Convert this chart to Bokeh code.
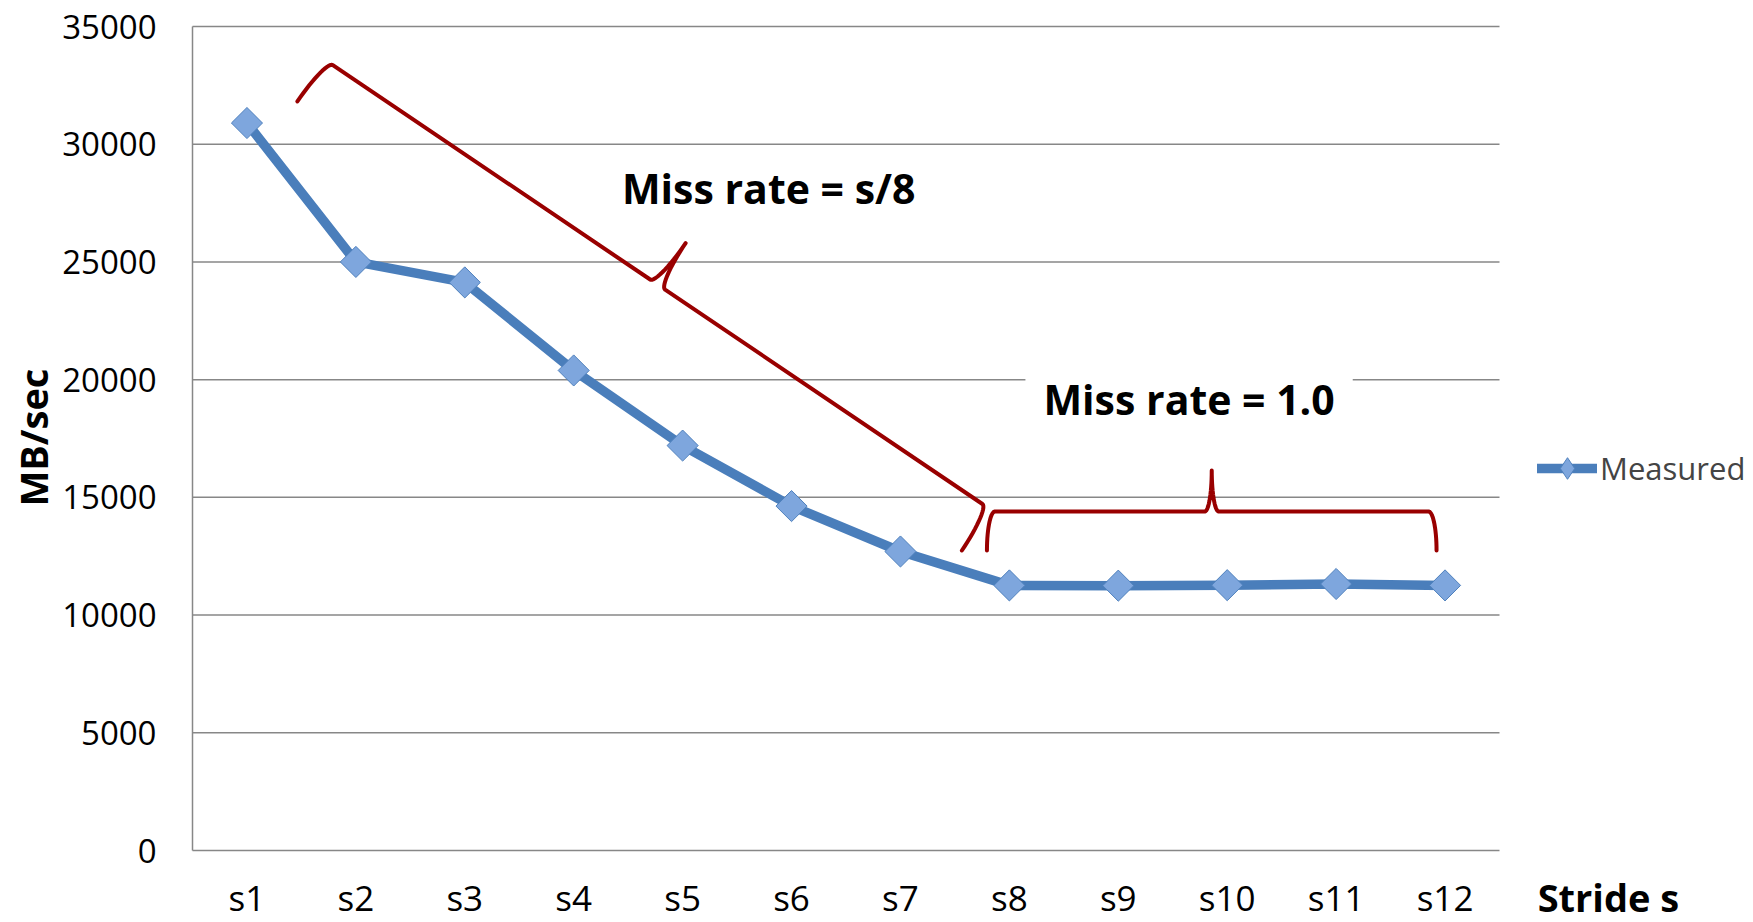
import numpy as np
from bokeh.plotting import figure
from bokeh.models import Range1d, FixedTicker, Label, Legend, LegendItem, LinearAxis
from bokeh.embed import file_html
from bokeh.resources import INLINE

# ---------------- data ----------------
categories = ["s1", "s2", "s3", "s4", "s5", "s6", "s7", "s8", "s9", "s10", "s11", "s12"]
measured = [30900, 25000, 24130, 20390, 17200, 14630, 12700, 11260, 11250, 11270, 11320, 11260]
y_ticks = [0, 5000, 10000, 15000, 20000, 25000, 30000, 35000]
series_name = "Measured"
y_title = "MB/sec"
x_title = "Stride s"
note_1 = "Miss rate = s/8"
note_2 = "Miss rate = 1.0"

# annotation anchors (category position, MB/sec)
note_1_pos = (5.29, 28120)
note_2_pos = (9.15, 19160)
y_title_pos = (-1.46, 17540)
x_title_x = 13.0
brace_1 = ((0.963, 31815), (7.064, 12743))
brace_2 = ((7.294, 12743), (11.422, 12743))

# ---------------- layout ----------------
W, H = 1753, 922
PLOT_L, PLOT_R, PLOT_T, PLOT_B = 192, 1499, 26, 850   # pixel box of the category area
YMAX = 35000
ncat = len(categories)
CAT_PX = (PLOT_R - PLOT_L) / ncat
VAL_PX = YMAX / (PLOT_B - PLOT_T)
x_range = Range1d(-PLOT_L / CAT_PX, (W - PLOT_L) / CAT_PX)
y_range = Range1d(-(H - PLOT_B) * VAL_PX, YMAX + PLOT_T * VAL_PX)
FONT = "Open Sans"
BLUE = "#4A7EBB"
RED = "#990000"
GRID = "#878787"

p = figure(width=W, height=H, x_range=x_range, y_range=y_range,
           output_backend="svg", toolbar_location=None,
           min_border_left=0, min_border_right=0, min_border_top=0, min_border_bottom=0)
p.outline_line_color = None
p.background_fill_color = "white"
p.border_fill_color = "white"

xs = [i + 0.5 for i in range(ncat)]

# axes (pinned at the data origin)
p.xaxis.ticker = FixedTicker(ticks=xs)
p.xaxis.major_label_overrides = {x: c for x, c in zip(xs, categories)}
p.xaxis.fixed_location = 0
p.yaxis.ticker = FixedTicker(ticks=y_ticks)
p.yaxis.fixed_location = 0
p.yaxis.bounds = (0, YMAX)
for ax in (p.xaxis[0], p.yaxis[0]):
    ax.major_tick_line_color = None
    ax.minor_tick_line_color = None
    ax.major_label_text_font = FONT
    ax.major_label_text_color = "black"
p.xaxis.axis_line_color = None
p.yaxis.axis_line_color = GRID
p.yaxis.axis_line_width = 1.5
p.yaxis.major_label_text_font_size = "33px"
p.xaxis.major_label_text_font_size = "35px"
p.yaxis.major_label_standoff = 30
p.xaxis.major_label_standoff = 17

# x title as the single tick label of a second bottom axis
title_axis = LinearAxis(ticker=FixedTicker(ticks=[x_title_x]),
                        major_label_overrides={x_title_x: x_title},
                        fixed_location=0, axis_line_color=None,
                        major_tick_line_color=None, minor_tick_line_color=None,
                        major_label_standoff=14, major_label_text_font=FONT,
                        major_label_text_font_size="38px",
                        major_label_text_font_style="bold",
                        major_label_text_color="black")
p.add_layout(title_axis, "below")

# gridlines only across the category area
p.xgrid.visible = False
p.ygrid.visible = False
p.segment(x0=[0] * len(y_ticks), y0=y_ticks, x1=[ncat] * len(y_ticks), y1=y_ticks,
          line_color=GRID, line_width=1.5)

# ---------------- braces ----------------
def brace_path(a, b, depth, tip, r_hook, r_tip, n=16):
    sx = CAT_PX
    sy = 1.0 / VAL_PX
    A = np.array([a[0] * sx, a[1] * sy])
    B = np.array([b[0] * sx, b[1] * sy])
    u = B - A
    L = np.linalg.norm(u)
    u = u / L
    nv = np.array([-u[1], u[0]])
    th = np.linspace(0, np.pi / 2, n)
    s1 = r_hook - r_hook * np.cos(th)
    t1 = depth * np.sin(th)
    s2 = L / 2 - r_tip + r_tip * np.sin(th)
    t2 = depth + tip - tip * np.cos(th)
    s_half = np.concatenate([s1, s2])
    t_half = np.concatenate([t1, t2])
    s = np.concatenate([s_half, (L - s_half)[::-1]])
    t = np.concatenate([t_half, t_half[::-1]])
    pts = A[None, :] + s[:, None] * u[None, :] + t[:, None] * nv[None, :]
    return list(pts[:, 0] / sx), list(pts[:, 1] / sy)

bx1, by1 = brace_path(brace_1[0], brace_1[1], depth=50, tip=50, r_hook=9, r_tip=9)
bx2, by2 = brace_path(brace_2[0], brace_2[1], depth=39, tip=41, r_hook=8, r_tip=7)
p.line(bx1, by1, line_color=RED, line_width=4, line_join="round", line_cap="round")
p.line(bx2, by2, line_color=RED, line_width=4, line_join="round", line_cap="round")

# ---------------- series ----------------
lr = p.line(xs, measured, line_color=BLUE, line_width=9.5, line_join="round", line_cap="round")
sr = p.scatter(xs, measured, marker="square", angle=np.pi / 4, size=22,
               fill_color="#7EA6DD", line_color="#4F81BD", line_width=1)
# legend-only diamond (no visible point in the plot)
sr_leg = p.scatter(x=np.array([xs[0]]), y=np.array([np.nan]), marker="diamond", size=22,
                   fill_color="#7EA6DD", line_color="#4F81BD", line_width=1)

legend = Legend(items=[LegendItem(label=series_name, renderers=[lr, sr_leg])],
                location=(1537, 427), padding=0, margin=0, spacing=0,
                glyph_width=60, glyph_height=54, label_height=54, label_standoff=3,
                label_text_font=FONT, label_text_font_size="31px",
                background_fill_alpha=0, border_line_color=None)
p.add_layout(legend)

# ---------------- notes and titles ----------------
p.add_layout(Label(x=note_1_pos[0], y=note_1_pos[1], text=note_1, text_align="center",
                   text_baseline="middle", text_font=FONT, text_font_size="41px",
                   text_font_style="bold", text_color="black"))
p.add_layout(Label(x=note_2_pos[0], y=note_2_pos[1], text=note_2, text_align="center",
                   text_baseline="middle", text_font=FONT, text_font_size="41px",
                   text_font_style="bold", text_color="black",
                   background_fill_color="white", padding=18))
p.add_layout(Label(x=y_title_pos[0], y=y_title_pos[1], text=y_title, angle=np.pi / 2,
                   text_align="center", text_baseline="middle", text_font=FONT,
                   text_font_size="38px", text_font_style="bold", text_color="black"))

open("out.html", "w").write(file_html(p, INLINE))
